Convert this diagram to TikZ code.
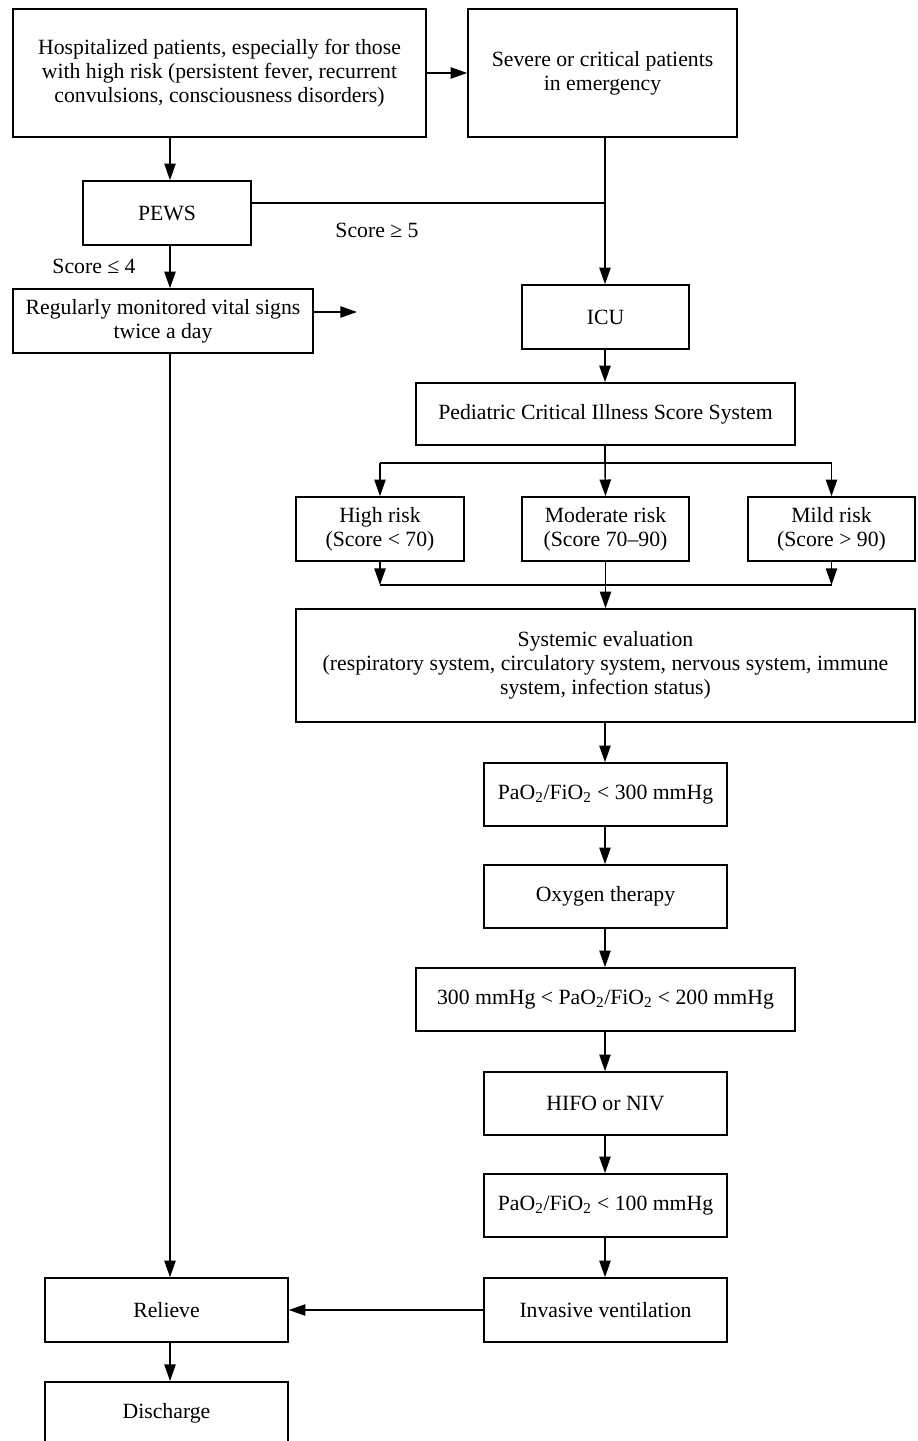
\documentclass[tikz,border=0pt]{standalone}
\usepackage{fontspec}
\setmainfont{Liberation Serif}
\usetikzlibrary{arrows.meta}
\newcommand\fbx[6]{\node[box, minimum width={(#4-#2)*0.75pt}, minimum height={(#5-#3)*0.75pt}] (#1) at ({(#2+#4)/2},{(#3+#5)/2}) {#6};}
\tikzset{
  box/.style={draw, line width=1.2pt, inner sep=0pt, align=center, font=\fontsize{16.3}{18}\selectfont},
  conn/.style={line width=1.1pt},
  arr/.style={conn, -{Triangle[length=12.5pt, width=8.5pt]}},
  lbl/.style={font=\fontsize{16.3}{18}\selectfont, inner sep=0pt}
}
\begin{document}
\begin{tikzpicture}[x=0.75pt, y=-0.75pt]
\path[use as bounding box] (0,0) rectangle (917,1441);
\clip (0,0) rectangle (917,1441);
\coordinate (colA) at (170,0);
\coordinate (colB) at (605,0);
\fbx{hosp}{13}{9}{426}{137}{Hospitalized patients, especially for those\\with high risk (persistent fever, recurrent\\convulsions, consciousness disorders)}
\fbx{sev}{468}{9}{737}{137}{Severe or critical patients\\in emergency}
\fbx{pews}{83}{181}{251}{245}{PEWS}
\fbx{reg}{13}{289}{313}{353}{Regularly monitored vital signs\\twice a day}
\fbx{icu}{522}{285}{689}{349}{ICU}
\fbx{pcis}{416}{383}{795}{445}{Pediatric Critical Illness Score System}
\fbx{high}{296}{497}{464}{561}{High risk\\(Score < 70)}
\fbx{mod}{522}{497}{689}{561}{Moderate risk\\(Score 70–90)}
\fbx{mild}{748}{497}{915}{561}{Mild risk\\(Score > 90)}
\fbx{sys}{296}{609}{915}{722}{Systemic evaluation\\(respiratory system, circulatory system, nervous system, immune\\system, infection status)}
\fbx{p300}{484}{763}{727}{826}{PaO\textsubscript{2}/FiO\textsubscript{2} < 300 mmHg}
\fbx{oxy}{484}{865}{727}{928}{Oxygen therapy}
\fbx{p200}{416}{968}{795}{1031}{300 mmHg < PaO\textsubscript{2}/FiO\textsubscript{2} < 200 mmHg}
\fbx{hifo}{484}{1072}{727}{1135}{HIFO or NIV}
\fbx{p100}{484}{1174}{727}{1237}{PaO\textsubscript{2}/FiO\textsubscript{2} < 100 mmHg}
\fbx{inv}{484}{1278}{727}{1342}{Invasive ventilation}
\fbx{rel}{45}{1278}{288}{1342}{Relieve}
\node[box, minimum width={243*0.75pt}, minimum height={80*0.75pt}, anchor=north] (dis) at (166.5,1381) {};
\node[lbl] (distext) at (166.5,1413) {Discharge};
% connectors
\coordinate (j) at (605,203);
\coordinate (regout) at (357,312);
\draw[arr] (hosp.east) -- (sev.west);
\draw[arr] (hosp.south -| colA) -- (pews.north -| colA);
\draw[conn] (j -| pews.east) -- (j);
\draw[arr] (sev.south -| colB) -- (icu.north -| colB);
\node[lbl] (s5) at (377,230) {Score ≥ 5};
\node[lbl] (s4) at (94,266) {Score ≤ 4};
\draw[arr] (pews.south -| colA) -- (reg.north -| colA);
\draw[arr] (regout -| reg.east) -- (regout);
\draw[arr] (reg.south -| colA) -- (rel.north -| colA);
\draw[arr] (icu.south -| colB) -- (pcis.north -| colB);
\coordinate (b1) at (605,463);
\coordinate (b2) at (605,585);
\draw[conn] (pcis.south -| colB) -- (b1);
\draw[conn] (b1 -| high) -- (b1 -| mild);
\draw[arr] (b1 -| high) -- (high.north);
\draw[arr] (b1) -- (mod.north);
\draw[arr] (b1 -| mild) -- (mild.north);
\draw[arr] (high.south) -- (b2 -| high);
\draw[arr] (mild.south) -- (b2 -| mild);
\draw[conn] (b2 -| high) -- (b2 -| mild);
\draw[arr] (mod.south) -- (sys.north -| mod);
\draw[arr] (sys.south -| colB) -- (p300.north -| colB);
\draw[arr] (p300.south -| colB) -- (oxy.north -| colB);
\draw[arr] (oxy.south -| colB) -- (p200.north -| colB);
\draw[arr] (p200.south -| colB) -- (hifo.north -| colB);
\draw[arr] (hifo.south -| colB) -- (p100.north -| colB);
\draw[arr] (p100.south -| colB) -- (inv.north -| colB);
\draw[arr] (inv.west) -- (rel.east);
\draw[arr] (rel.south -| colA) -- (dis.north -| colA);
\end{tikzpicture}
\end{document}
